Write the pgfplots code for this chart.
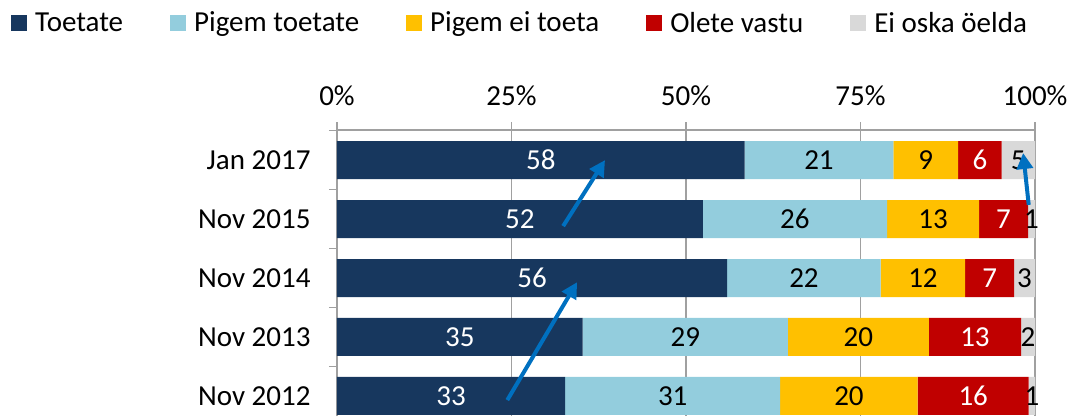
\documentclass[border=0pt]{standalone}
\usepackage{pgfplots}
\pgfplotsset{compat=1.18}
\usepackage{pgfplotstable}
\usepackage{fontspec}
\setmainfont{Carlito}
\usetikzlibrary{arrows.meta}
\definecolor{cNavy}{HTML}{17375E}
\definecolor{cLight}{HTML}{93CDDD}
\definecolor{cGold}{HTML}{FFC000}
\definecolor{cRed}{HTML}{C00000}
\definecolor{cGray}{HTML}{D9D9D9}
\definecolor{cArrow}{HTML}{0070C0}
\definecolor{cGrid}{HTML}{A0A0A0}

\pgfplotstableread{
y  a    la  b    lb  c    lc  d    ld  e   le
4  58.4 58  21.3 21  9.3  9   6.2  6   4.8 5
3  52.4 52  26.4 26  13.2 13  7.0  7   1.0 1
2  55.9 56  22.0 22  12.1 12  7.0  7   3.0 3
1  35.2 35  29.4 29  20.2 20  13.2 13  2.0 2
0  32.7 33  30.8 31  19.7 20  15.9 16  0.9 1
}\data

\begin{document}
\begin{tikzpicture}[font=\fontsize{29}{35}\selectfont]
\begin{axis}[
  scale only axis, width=698pt, height=286pt,
  xbar stacked, bar width=38pt,
  xmin=0, xmax=100, ymin=-0.34, ymax=4.51,
  axis x line*=top, axis y line*=left,
  axis line style={draw=cGrid, line width=1.5pt},
  xtick={0,25,50,75,100}, xticklabels={0\%,25\%,50\%,75\%,100\%},
  xticklabel style={yshift=13pt},
  yticklabel style={xshift=-15pt},
  xmajorgrids, grid style={draw=cGrid, line width=1.5pt},
  tick align=outside, major tick length=8pt, minor tick length=8pt,
  major x tick style={draw=cGrid, line width=1.5pt},
  ytick={0,...,4}, yticklabels={Nov 2012,Nov 2013,Nov 2014,Nov 2015,Jan 2017},
  minor ytick={0.5,1.5,2.5,3.5,4.5},
  major y tick style={draw=none},
  minor y tick style={draw=cGrid, line width=1.5pt},
  point meta=explicit symbolic,
  nodes near coords={\pgfplotspointmeta},
  every node near coord/.append style={anchor=center},
  legend columns=5,
  legend style={draw=none, fill=none, inner sep=0pt, at={(rel axis cs:-0.467,1.375)}, anchor=west,
    nodes={inner xsep=4pt, inner ysep=0pt},
    /tikz/every even column/.append style={column sep=43pt}},
  legend image code/.code={\fill[#1] (0pt,-8pt) rectangle (16pt,8pt); \path (20pt,0pt);},
]
\addplot[fill=cNavy, draw=none, nodes near coords style={text=white}] table[x=a, y=y, meta=la]{\data};
\addplot[fill=cLight, draw=none, nodes near coords style={text=black}] table[x=b, y=y, meta=lb]{\data};
\addplot[fill=cGold, draw=none, nodes near coords style={text=black}] table[x=c, y=y, meta=lc]{\data};
\addplot[fill=cRed, draw=none, nodes near coords style={text=white}] table[x=d, y=y, meta=ld]{\data};
\addplot[fill=cGray, draw=none, nodes near coords style={text=black}] table[x=e, y=y, meta=le]{\data};
\legend{Toetate, Pigem toetate, Pigem ei toeta, Olete vastu, Ei oska öelda}
\coordinate (a1s) at (axis cs:32.4,2.88);
\coordinate (a1e) at (axis cs:38.4,4.0);
\coordinate (a2s) at (axis cs:24.4,-0.07);
\coordinate (a2e) at (axis cs:34.4,1.93);
\coordinate (a3s) at (axis cs:99.1,3.24);
\coordinate (a3e) at (axis cs:98.3,4.12);
\coordinate (bl) at (rel axis cs:-0.48281,0);
\coordinate (tr) at (rel axis cs:1.05587,1.45455);
\end{axis}
\draw[-{Triangle[length=16pt,width=16pt]}, line width=4pt, cArrow] (a1s) -- (a1e);
\draw[-{Triangle[length=16pt,width=16pt]}, line width=4pt, cArrow] (a2s) -- (a2e);
\draw[-{Triangle[length=16pt,width=16pt]}, line width=4pt, cArrow] (a3s) -- (a3e);
\pgfresetboundingbox
\path (bl) rectangle (tr);
\end{tikzpicture}
\end{document}
